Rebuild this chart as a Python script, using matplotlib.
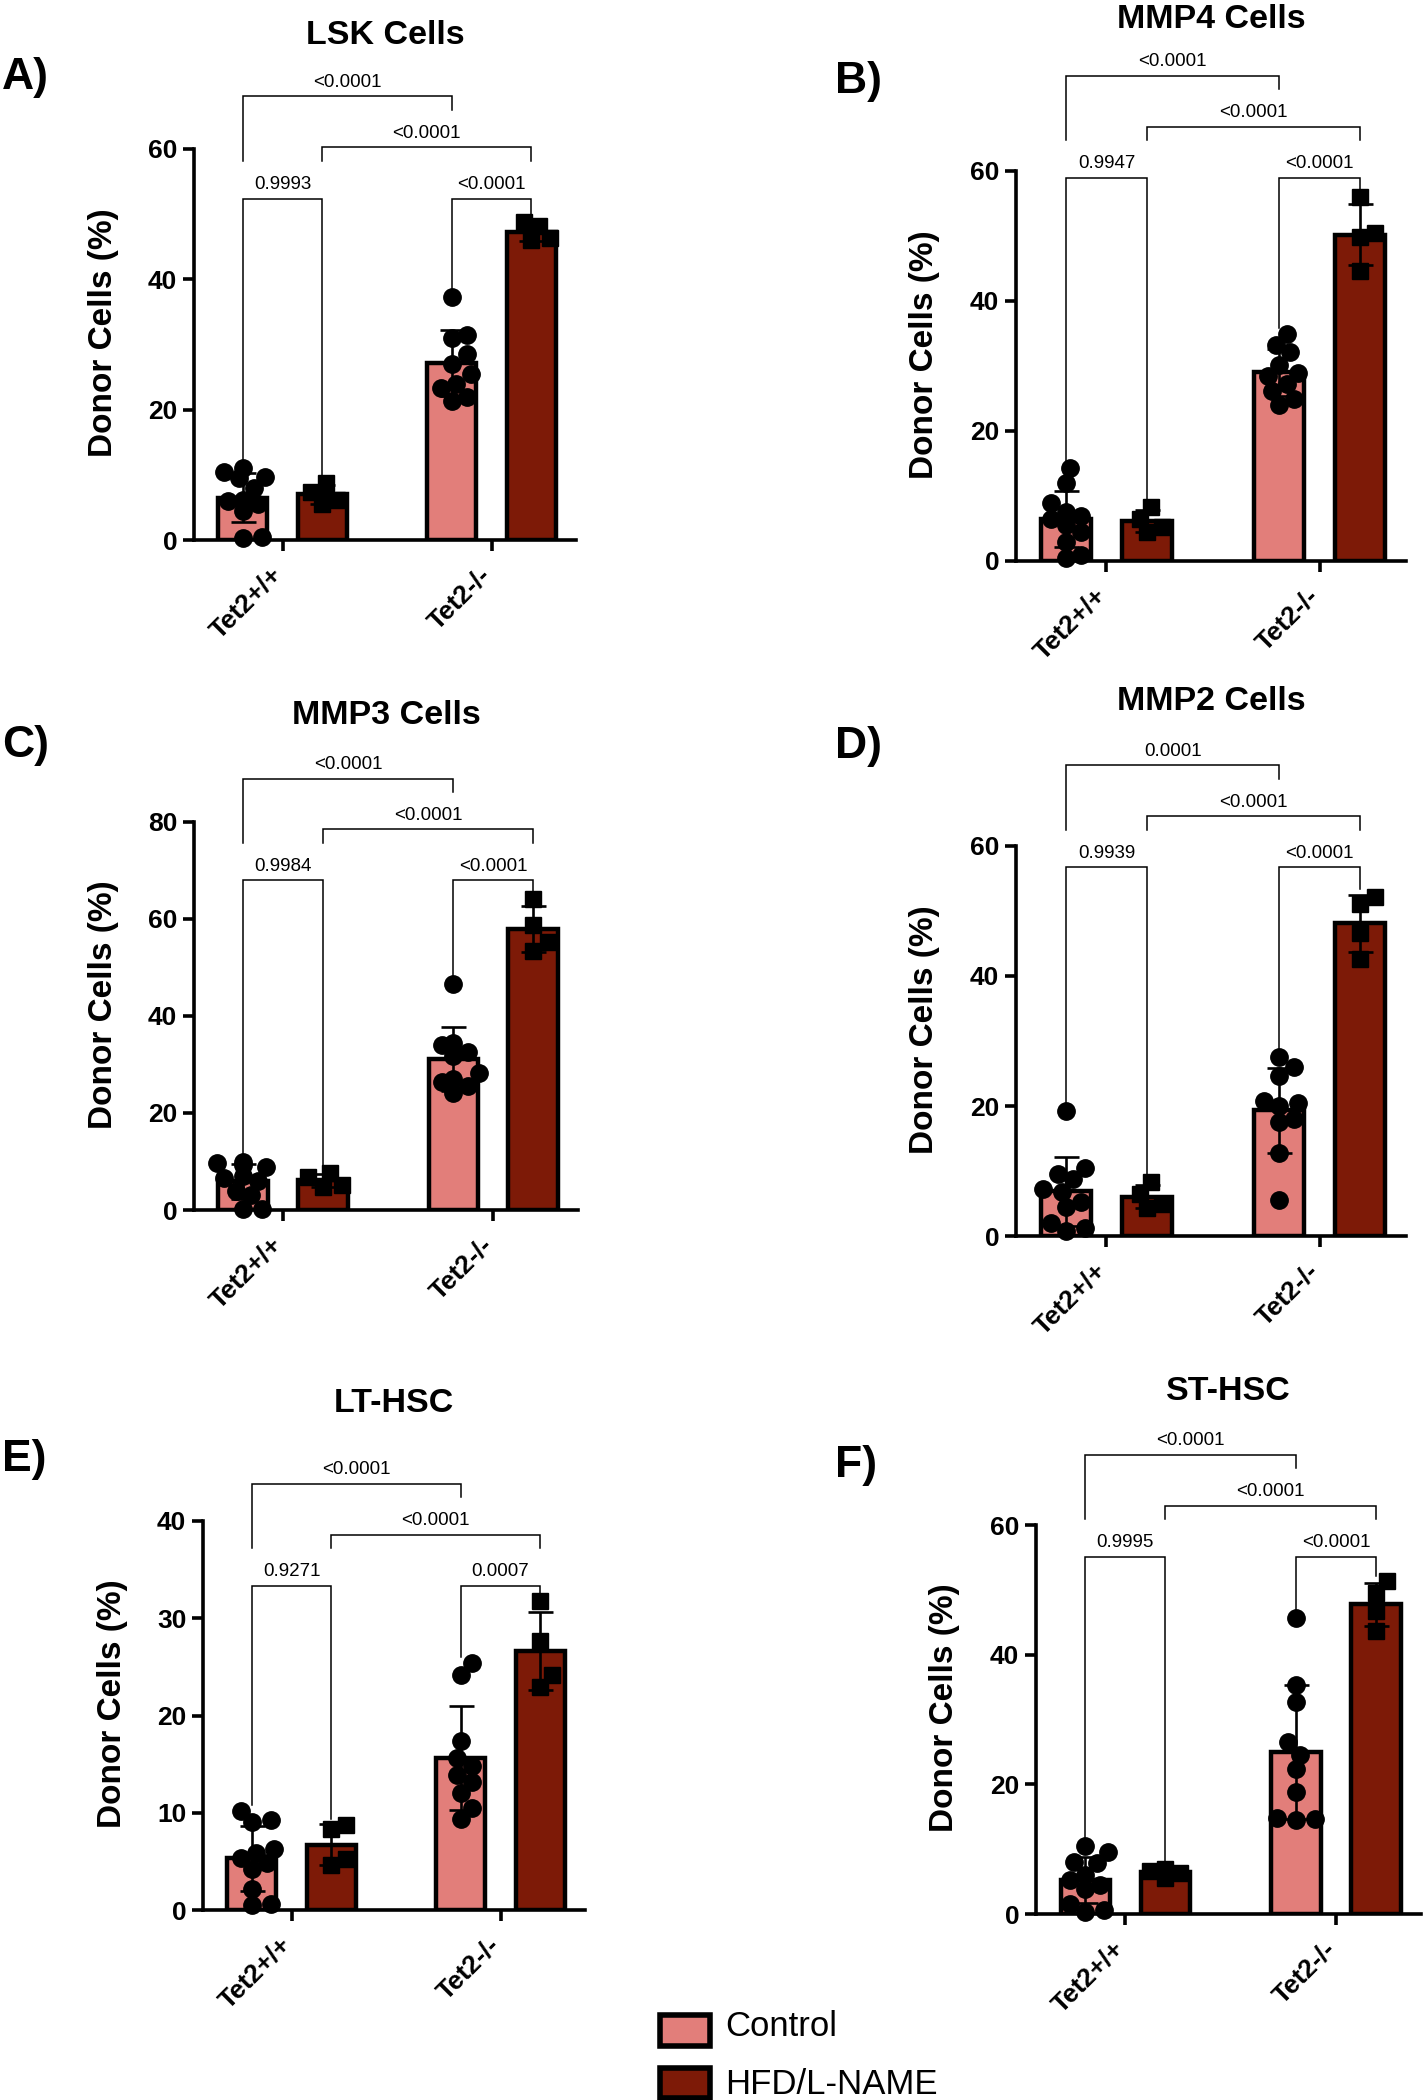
import matplotlib
matplotlib.use("Agg")
import matplotlib.pyplot as plt
import matplotlib.transforms as mtransforms
from matplotlib.patches import Rectangle
import numpy as np

plt.rcParams['font.family'] = ['Liberation Sans', 'DejaVu Sans']

W, H = 1423, 2100
DPI = 100

groups = ["Tet2+/+", "Tet2-/-"]
legend_labels = ["Control", "HFD/L-NAME"]
ylabel = "Donor Cells (%)"
CTRL = "#E27E7A"
HFD = "#7D1A07"

# values (each point is one mouse)
lsk_ctrl_wt = [11.0, 10.5, 9.7, 9.5, 8.0, 6.2, 6.0, 5.5, 4.5, 0.5, 0.3]
lsk_hfd_wt = [8.8, 7.4, 6.2, 5.6]
lsk_ctrl_ko = [37.3, 31.5, 31.0, 28.5, 27.0, 25.5, 24.0, 23.3, 22.0, 21.4]
lsk_hfd_ko = [48.8, 48.2, 46.3, 46.0]
lsk_p = ["0.9993", "<0.0001", "<0.0001", "<0.0001"]

mmp4_ctrl_wt = [14.3, 12.0, 9.0, 7.5, 7.0, 6.5, 5.5, 4.5, 3.0, 1.0, 0.5]
mmp4_hfd_wt = [8.3, 6.5, 5.2, 4.4]
mmp4_ctrl_ko = [34.9, 33.2, 32.2, 30.2, 29.0, 28.5, 27.2, 26.2, 25.0, 24.0]
mmp4_hfd_ko = [56.0, 50.5, 49.8, 44.6]
mmp4_p = ["0.9947", "<0.0001", "<0.0001", "<0.0001"]

mmp3_ctrl_wt = [10.0, 9.6, 9.2, 8.8, 7.0, 6.6, 6.0, 4.0, 3.0, 0.3, 0.2]
mmp3_hfd_wt = [7.6, 6.8, 5.2, 4.8]
mmp3_ctrl_ko = [46.7, 34.5, 34.0, 32.6, 31.8, 28.2, 27.0, 26.4, 25.5, 24.2]
mmp3_hfd_ko = [64.2, 58.8, 55.3, 53.3]
mmp3_p = ["0.9984", "<0.0001", "<0.0001", "<0.0001"]

mmp2_ctrl_wt = [19.3, 10.5, 9.6, 8.8, 7.2, 6.8, 5.2, 4.5, 2.0, 1.2, 0.8]
mmp2_hfd_wt = [8.3, 6.5, 5.0, 4.3]
mmp2_ctrl_ko = [27.6, 26.0, 24.6, 20.8, 20.4, 20.0, 18.0, 17.5, 12.8, 5.5]
mmp2_hfd_ko = [52.2, 51.1, 46.6, 42.6]
mmp2_p = ["0.9939", "<0.0001", "<0.0001", "0.0001"]

lt_ctrl_wt = [10.2, 9.3, 9.1, 6.3, 5.9, 5.3, 4.8, 4.2, 2.2, 0.6, 0.5]
lt_hfd_wt = [8.7, 8.3, 5.2, 4.6]
lt_ctrl_ko = [25.4, 24.2, 17.4, 15.6, 14.8, 13.9, 13.2, 12.0, 10.5, 9.4]
lt_hfd_ko = [31.8, 27.7, 24.2, 22.9]
lt_p = ["0.9271", "0.0007", "<0.0001", "<0.0001"]

st_ctrl_wt = [10.5, 9.5, 8.0, 7.8, 6.0, 5.3, 4.5, 3.8, 1.5, 0.6, 0.3]
st_hfd_wt = [7.0, 6.7, 6.4, 5.6]
st_ctrl_ko = [45.6, 35.3, 32.7, 26.5, 24.6, 22.3, 18.8, 14.8, 14.7, 14.5]
st_hfd_ko = [51.3, 49.5, 46.7, 43.7]
st_p = ["0.9995", "<0.0001", "<0.0001", "<0.0001"]

titles = ["LSK Cells", "MMP4 Cells", "MMP3 Cells", "MMP2 Cells", "LT-HSC", "ST-HSC"]
letters = ["A)", "B)", "C)", "D)", "E)", "F)"]
ymaxes = [60, 60, 80, 60, 40, 60]
ysteps = [20, 20, 20, 20, 10, 20]
columns = [
    [lsk_ctrl_wt, lsk_hfd_wt, lsk_ctrl_ko, lsk_hfd_ko],
    [mmp4_ctrl_wt, mmp4_hfd_wt, mmp4_ctrl_ko, mmp4_hfd_ko],
    [mmp3_ctrl_wt, mmp3_hfd_wt, mmp3_ctrl_ko, mmp3_hfd_ko],
    [mmp2_ctrl_wt, mmp2_hfd_wt, mmp2_ctrl_ko, mmp2_hfd_ko],
    [lt_ctrl_wt, lt_hfd_wt, lt_ctrl_ko, lt_hfd_ko],
    [st_ctrl_wt, st_hfd_wt, st_ctrl_ko, st_hfd_ko],
]
pvals = [lsk_p, mmp4_p, mmp3_p, mmp2_p, lt_p, st_p]

# layout, in pixels of the final image: axes box (left, right, top, bottom)
boxes = [(194, 576, 149, 540), (1016, 1406, 171, 561),
         (194, 578, 822, 1210), (1016, 1406, 846, 1236),
         (203, 585, 1521, 1910), (1036, 1421, 1525, 1914)]
title_y = [36, 19, 716, 701, 1403, 1392]
letter_xy = [(2, 78), (835, 82), (2, 746), (835, 747), (2, 1459), (835, 1465)]
level1 = [0.873, 0.982, 0.85, 0.945, 0.834, 0.918]
LEVEL_STEP = 0.131

col_x = [-0.19, 0.19, 0.81, 1.19]
BAR_W = 0.235
XLIM = (-0.424, 1.404)


def swarm(vals, ppu_x, ppu_y, diam):
    # simple beeswarm in pixel space
    vals = np.asarray(vals)
    order = np.argsort(vals)
    placed = []
    xs = np.zeros(len(vals))
    step = diam * 0.22
    cands = [0.0]
    for n in range(1, 30):
        cands += [n * step, -n * step]
    for i in order:
        y = vals[i] * ppu_y
        best = 0.0
        for cx in cands:
            if abs(cx) > diam * 1.6:
                break
            if all((cx - px) ** 2 + (y - py) ** 2 >= (diam * 0.9) ** 2 for px, py in placed):
                best = cx
                break
        placed.append((best, y))
        xs[i] = best / ppu_x
    return xs


def bracket(ax, x1, x2, h, b1, b2, label):
    ax.plot([x1, x1, x2, x2], [b1, h, h, b2], color='k', lw=1.1,
            clip_on=False, solid_joinstyle='miter', zorder=5)
    ax.annotate(label, ((x1 + x2) / 2, h), xytext=(0, 4),
                textcoords='offset points', ha='center', va='bottom',
                fontsize=13.5, annotation_clip=False)


fig = plt.figure(figsize=(W / DPI, H / DPI), dpi=DPI)
shift = mtransforms.ScaledTranslation(-13 / DPI, -6 / DPI, fig.dpi_scale_trans)

for k in range(6):
    left, right, top, bottom = boxes[k]
    ax = fig.add_axes([left / W, 1 - bottom / H, (right - left) / W, (bottom - top) / H])
    ymax = ymaxes[k]
    wpx, hpx = right - left, bottom - top
    ppu_x = wpx / (XLIM[1] - XLIM[0])
    ppu_y = hpx / ymax

    tops = []
    for c, vals in enumerate(columns[k]):
        vals = np.asarray(vals)
        m, sd = vals.mean(), vals.std(ddof=1)
        color = CTRL if c % 2 == 0 else HFD
        ax.bar(col_x[c], m, width=BAR_W, color=color, edgecolor='k',
               linewidth=3.2, zorder=2)
        jit = swarm(vals, ppu_x, ppu_y, 17)
        marker = 'o' if c % 2 == 0 else 's'
        ms = 12.5 if marker == 'o' else 11
        ax.plot(col_x[c] + jit, vals, marker, color='k', ms=ms, zorder=3,
                clip_on=False)
        ax.errorbar(col_x[c], m, yerr=sd, color='k', capsize=9, capthick=1.9,
                    elinewidth=1.9, zorder=4)
        tops.append(max(vals.max(), m + sd) + 0.015 * ymax)

    ax.set_xlim(*XLIM)
    ax.set_ylim(0, ymax)
    ax.set_yticks(np.arange(0, ymax + 1, ysteps[k]))
    ax.set_xticks([0, 1])
    ax.set_xticklabels(groups, rotation=45, ha='right', rotation_mode='anchor')
    for s in ['top', 'right']:
        ax.spines[s].set_visible(False)
    for s in ['left', 'bottom']:
        ax.spines[s].set_linewidth(2.6)
    ax.tick_params(width=2.6, length=8, labelsize=19, pad=4)
    for lab in ax.get_xticklabels():
        lab.set_fontweight('bold')
        lab.set_transform(lab.get_transform() + shift)
    for lab in ax.get_yticklabels():
        lab.set_fontweight('bold')
    ax.set_ylabel(ylabel, fontsize=24, fontweight='bold', va='center')
    ax.yaxis.set_label_coords(-91 / wpx, 0.53)

    # significance brackets
    occ = list(tops)
    h1 = level1[k] * ymax
    h2 = (level1[k] + LEVEL_STEP) * ymax
    h3 = (level1[k] + 2 * LEVEL_STEP) * ymax
    gap = 0.097 * ymax
    p = pvals[k]
    bracket(ax, col_x[0], col_x[1], h1, occ[0], occ[1], p[0])
    bracket(ax, col_x[2], col_x[3], h1, occ[2], occ[3], p[1])
    for c in range(4):
        occ[c] = h1 + gap
    bracket(ax, col_x[1], col_x[3], h2, occ[1], occ[3], p[2])
    for c in range(1, 4):
        occ[c] = h2 + gap
    bracket(ax, col_x[0], col_x[2], h3, occ[0], occ[2], p[3])

    fig.text((left + right) / 2 / W, 1 - title_y[k] / H, titles[k],
             ha='center', va='center', fontsize=24.5, fontweight='bold')
    lx, ly = letter_xy[k]
    fig.text(lx / W, 1 - ly / H, letters[k], ha='left', va='center',
             fontsize=32, fontweight='bold')

# legend
legend_boxes = [(660, 2015, 710, 2046), (660, 2068, 710, 2098)]
legend_text_y = [2027, 2084]
for (x0, y0, x1, y1), lab, col, ty in zip(legend_boxes, legend_labels, [CTRL, HFD], legend_text_y):
    fig.add_artist(Rectangle((x0 / W, 1 - y1 / H), (x1 - x0) / W, (y1 - y0) / H,
                             transform=fig.transFigure, facecolor=col,
                             edgecolor='k', linewidth=4))
    fig.text(725 / W, 1 - ty / H, lab, ha='left', va='center', fontsize=25)

fig.savefig("out.png", dpi=DPI)
